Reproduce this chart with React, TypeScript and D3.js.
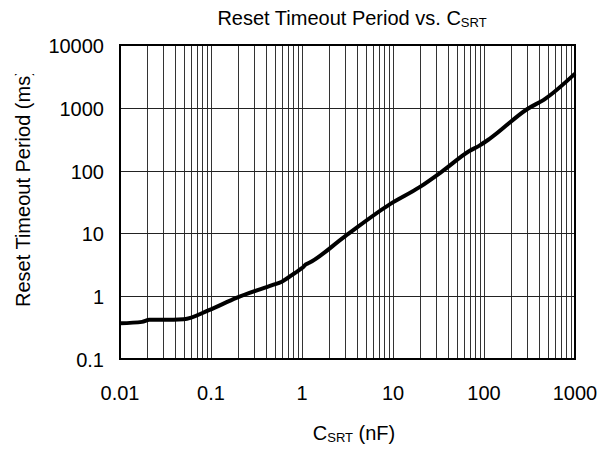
import React, { useEffect, useRef } from "react";
import * as d3 from "d3";

// C_SRT (nF) vs reset timeout period (ms)
const capNF = [0.01, 0.0175, 0.021, 0.03, 0.05, 0.095, 0.19, 0.47, 0.6, 0.82, 1.0, 1.1, 1.2, 2.94, 9.2, 19.8, 35, 69, 89, 115, 297, 470, 1000];
const periodMs = [0.37, 0.39, 0.42, 0.42, 0.43, 0.6, 0.94, 1.5, 1.7, 2.3, 2.8, 3.2, 3.4, 8.9, 29, 55, 98, 205, 250, 320, 950, 1390, 3500];

const xTicks = [0.01, 0.1, 1, 10, 100, 1000];
const yTicks = [0.1, 1, 10, 100, 1000, 10000];
const xTickLabels = ["0.01", "0.1", "1", "10", "100", "1000"];
const yTickLabels = ["0.1", "1", "10", "100", "1000", "10000"];

const App = () => {
  const ref = useRef(null);

  useEffect(() => {
    const width = 610;
    const height = 450;
    const margin = { top: 45, right: 35, bottom: 91, left: 120 };
    const font = "'Liberation Sans', Arial, sans-serif";

    const svg = d3.select(ref.current);
    svg.selectAll("*").remove();
    svg.attr("width", width).attr("height", height).attr("viewBox", [0, 0, width, height]);

    const x = d3.scaleLog().domain([0.01, 1000]).range([margin.left, width - margin.right]);
    const y = d3.scaleLog().domain([0.1, 10000]).range([height - margin.bottom, margin.top]);

    // minor vertical grid: 2..9 in every decade
    const minor = [];
    for (let e = -2; e < 3; e++) {
      for (let k = 2; k <= 9; k++) minor.push(k * Math.pow(10, e));
    }
    const grid = svg.append("g").attr("shape-rendering", "crispEdges");
    grid.selectAll("line.vx")
      .data(minor.concat(xTicks))
      .join("line")
      .attr("class", "vx")
      .attr("x1", (d) => Math.round(x(d)) + 0.5)
      .attr("x2", (d) => Math.round(x(d)) + 0.5)
      .attr("y1", y(10000))
      .attr("y2", y(0.1))
      .attr("stroke", "#333")
      .attr("stroke-width", 1);
    grid.selectAll("line.hy")
      .data(yTicks)
      .join("line")
      .attr("class", "hy")
      .attr("x1", x(0.01))
      .attr("x2", x(1000))
      .attr("y1", (d) => Math.round(y(d)) + 0.5)
      .attr("y2", (d) => Math.round(y(d)) + 0.5)
      .attr("stroke", "#222")
      .attr("stroke-width", 1);

    // frame
    svg.append("rect")
      .attr("x", x(0.01))
      .attr("y", y(10000))
      .attr("width", x(1000) - x(0.01))
      .attr("height", y(0.1) - y(10000))
      .attr("fill", "none")
      .attr("stroke", "#000")
      .attr("stroke-width", 2);

    // curve
    const line = d3.line()
      .x((d) => x(d[0]))
      .y((d) => y(d[1]))
      .curve(d3.curveMonotoneX);
    svg.append("path")
      .datum(capNF.map((c, i) => [c, periodMs[i]]))
      .attr("d", line)
      .attr("fill", "none")
      .attr("stroke", "#000")
      .attr("stroke-width", 4)
      .attr("stroke-linejoin", "round");

    // tick labels
    svg.append("g")
      .selectAll("text")
      .data(xTicks)
      .join("text")
      .attr("x", (d) => x(d))
      .attr("y", 400)
      .attr("text-anchor", "middle")
      .attr("font-family", font)
      .attr("font-size", 20)
      .text((d, i) => xTickLabels[i]);
    svg.append("g")
      .selectAll("text")
      .data(yTicks)
      .join("text")
      .attr("x", 104)
      .attr("y", (d) => y(d) + 8)
      .attr("text-anchor", "end")
      .attr("font-family", font)
      .attr("font-size", 20)
      .text((d, i) => yTickLabels[i]);

    // title
    const title = svg.append("text")
      .attr("x", 352)
      .attr("y", 25)
      .attr("text-anchor", "middle")
      .attr("font-family", font)
      .attr("font-size", 20);
    title.append("tspan").text("Reset Timeout Period vs. C");
    title.append("tspan").attr("font-size", 13).attr("dy", 2).text("SRT");

    // x axis label
    const xl = svg.append("text")
      .attr("x", 354)
      .attr("y", 440)
      .attr("text-anchor", "middle")
      .attr("font-family", font)
      .attr("font-size", 20);
    xl.append("tspan").text("C");
    xl.append("tspan").attr("font-size", 13).attr("dy", 2).text("SRT");
    xl.append("tspan").attr("dy", -2).text(" (nF)");

    // y axis label, clipped at the top like the original
    svg.append("clipPath")
      .attr("id", "ylab")
      .append("rect")
      .attr("x", 0)
      .attr("y", 74)
      .attr("width", 60)
      .attr("height", 300);
    svg.append("g")
      .attr("clip-path", "url(#ylab)")
      .append("text")
      .attr("transform", "translate(30,307) rotate(-90)")
      .attr("font-family", font)
      .attr("font-size", 20)
      .text("Reset Timeout Period (ms)");
  }, []);

  return <svg ref={ref} style={{ position: "absolute", left: 0, top: 0 }}></svg>;
};

export default App;
